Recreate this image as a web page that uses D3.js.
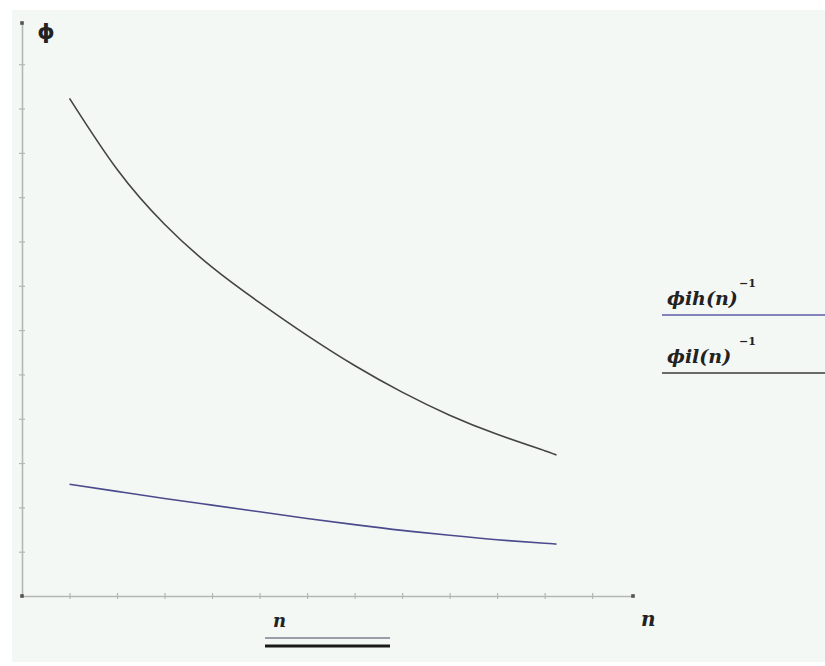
<!DOCTYPE html>
<html>
<head>
<meta charset="utf-8">
<script src="https://cdn.jsdelivr.net/npm/d3@7"></script>
<style>
  body { margin: 0; background: #fff; }
  svg { display: block; }
</style>
</head>
<body>
<div id="canvas"></div>
<script>
// n values sampled along the curves
var nValues = [1, 2, 3, 4, 5, 6, 7, 8, 9, 10, 11, 11.25];
// upper (dark) curve
var seriesHigh = [11.23, 9.63, 8.39, 7.42, 6.62, 5.88, 5.20, 4.60, 4.08, 3.65, 3.28, 3.18];
// lower (blue) curve
var seriesLow = [2.52, 2.36, 2.20, 2.05, 1.90, 1.75, 1.61, 1.48, 1.37, 1.27, 1.19, 1.17];
var xTicks = [1, 2, 3, 4, 5, 6, 7, 8, 9, 10, 11, 12];
var yTicks = [1, 2, 3, 4, 5, 6, 7, 8, 9, 10, 11, 12];
var legendLabels = [
  { name: "ϕih", arg: "(n)", color: "#5c5ca6" },
  { name: "ϕil", arg: "(n)", color: "#3a3a3a" }
];

var w = 825, h = 666;
var svg = d3.select("#canvas").append("svg").attr("width", w).attr("height", h);

// plot background
svg.append("rect").attr("x", 12).attr("y", 10).attr("width", w - 12).attr("height", 652)
  .attr("fill", "#f4f8f5");

var x = d3.scaleLinear().domain([0, 12.86]).range([22, 633]);
var y = d3.scaleLinear().domain([0, 12.93]).range([596, 23]);

var axisColor = "#b4b8b4";

// x axis
var gx = svg.append("g").attr("transform", "translate(0," + y(0) + ")")
  .call(d3.axisBottom(x).tickValues(xTicks).tickSize(0).tickFormat(""));
gx.select(".domain").attr("stroke", axisColor).attr("stroke-width", 1.6);
gx.selectAll(".tick").append("line").attr("y1", -3).attr("y2", 3)
  .attr("stroke", axisColor).attr("stroke-width", 1.2);

// y axis
var gy = svg.append("g").attr("transform", "translate(" + x(0) + ",0)")
  .call(d3.axisLeft(y).tickValues(yTicks).tickSize(0).tickFormat(""));
gy.select(".domain").attr("stroke", axisColor).attr("stroke-width", 1.6);
gy.selectAll(".tick").append("line").attr("x1", -3).attr("x2", 3)
  .attr("stroke", axisColor).attr("stroke-width", 1.2);

// axis end markers
[[0, 0], [12.86, 0], [0, 12.93]].forEach(function(p) {
  svg.append("rect").attr("x", x(p[0]) - 1.8).attr("y", y(p[1]) - 1.8)
    .attr("width", 3.6).attr("height", 3.6).attr("fill", "#555");
});

// curves
var line = d3.line().x(function(d, i) { return x(nValues[i]); })
  .y(function(d) { return y(d); }).curve(d3.curveNatural);

svg.append("path").attr("d", line(seriesHigh)).attr("fill", "none")
  .attr("stroke", "#444").attr("stroke-width", 1.6);
svg.append("path").attr("d", line(seriesLow)).attr("fill", "none")
  .attr("stroke", "#4a4a8c").attr("stroke-width", 1.6);

// axis labels
svg.append("text").attr("x", 46).attr("y", 39).attr("text-anchor", "middle")
  .style("font-family", "DejaVu Sans").style("font-weight", "bold")
  .style("font-size", "22px").style("fill", "#222")
  .text("ϕ");

svg.append("text").attr("x", 641).attr("y", 626)
  .style("font-family", "DejaVu Serif").style("font-style", "italic").style("font-weight", "bold")
  .style("font-size", "20px").style("fill", "#222").text("n");

svg.append("text").attr("x", 273).attr("y", 627)
  .style("font-family", "DejaVu Serif").style("font-style", "italic").style("font-weight", "bold")
  .style("font-size", "18px").style("fill", "#222").text("n");
svg.append("line").attr("x1", 265).attr("x2", 390).attr("y1", 638).attr("y2", 638)
  .attr("stroke", "#9a9ea6").attr("stroke-width", 2);
svg.append("line").attr("x1", 265).attr("x2", 390).attr("y1", 646).attr("y2", 646)
  .attr("stroke", "#1a1a1a").attr("stroke-width", 3);

// trace labels on the right
legendLabels.forEach(function(d, i) {
  var base = 305 + i * 58;
  var t = svg.append("text").attr("x", 667).attr("y", base)
    .style("font-family", "DejaVu Serif").style("font-style", "italic").style("font-weight", "bold")
    .style("font-size", "19px").style("fill", "#222");
  t.append("tspan").text(d.name);
  t.append("tspan").text(d.arg);
  svg.append("text").attr("x", 739).attr("y", base - 18)
    .style("font-family", "DejaVu Serif").style("font-weight", "bold")
    .style("font-size", "11px").style("fill", "#222")
    .text("−1");
  svg.append("line").attr("x1", 662).attr("x2", w).attr("y1", base + 10).attr("y2", base + 10)
    .attr("stroke", d.color).attr("stroke-width", 1.5);
});
</script>
</body>
</html>
